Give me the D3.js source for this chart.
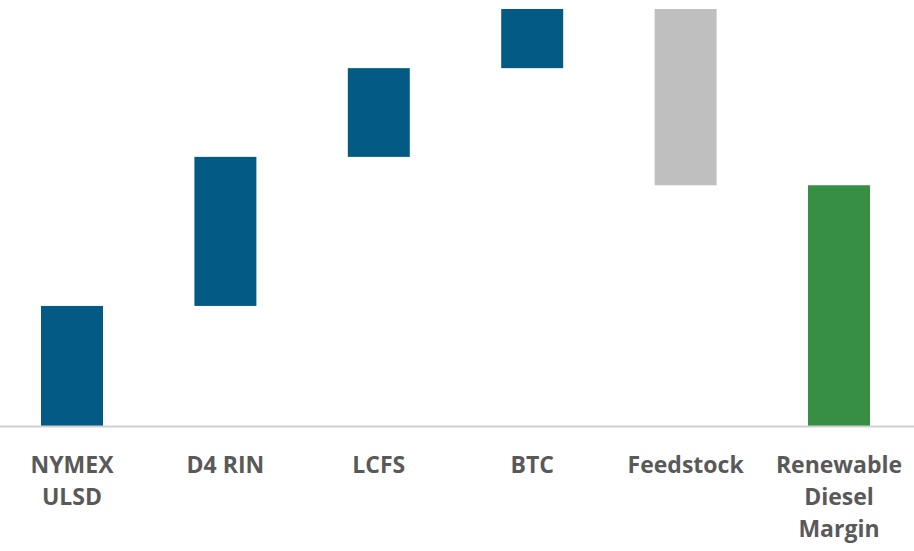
<!DOCTYPE html>
<html><head><meta charset="utf-8">
<script src="https://cdn.jsdelivr.net/npm/d3@7"></script>
<style>body{margin:0;background:#fff}svg{display:block}</style>
</head><body><svg id="c" width="914" height="551"></svg>
<script>
const categories = ["NYMEX ULSD", "D4 RIN", "LCFS", "BTC", "Feedstock", "Renewable Diesel Margin"];
const labelLines = [["NYMEX","ULSD"],["D4 RIN"],["LCFS"],["BTC"],["Feedstock"],["Renewable","Diesel","Margin"]];
const values = [2.03, 2.52, 1.50, 1.00, -2.98, 4.07];
const kinds = ["inc","inc","inc","inc","dec","total"];
const colors = {inc:"#025a85", dec:"#bfbfbf", total:"#378f43"};

const W = 914, H = 551;
const svg = d3.select("#c");
const x = d3.scaleBand().domain(categories).range([-4.7, 915.7]).paddingInner(0.596).paddingOuter(0.298);
const y = d3.scaleLinear().domain([0, 7.05]).range([426, 9]);

let cum = 0;
const bars = categories.map((c,i)=>{
  let y0, y1;
  if (kinds[i]==="total") { y0 = 0; y1 = values[i]; cum = values[i]; }
  else { y0 = cum; y1 = cum + values[i]; cum = y1; }
  return {c, lo: Math.min(y0,y1), hi: Math.max(y0,y1), k: kinds[i]};
});

svg.selectAll("rect.bar").data(bars).enter().append("rect")
  .attr("x", d=>x(d.c)).attr("width", x.bandwidth())
  .attr("y", d=>y(d.hi)).attr("height", d=>y(d.lo)-y(d.hi))
  .attr("fill", d=>colors[d.k]);

svg.append("line").attr("x1",0).attr("x2",W).attr("y1",y(0)+0.5).attr("y2",y(0)+0.5)
  .attr("stroke","#d0d0d0").attr("stroke-width",2);

const g = svg.append("g").attr("font-family","'Open Sans', sans-serif").attr("font-weight","bold")
  .attr("font-size","23px").attr("fill","#595959");
categories.forEach((c,i)=>{
  const t = g.append("text").attr("text-anchor","middle");
  labelLines[i].forEach((l,j)=>{
    t.append("tspan").attr("x",0).attr("y",473+ j*32).text(l);
  });
  let cx = x(c)+x.bandwidth()/2;
  const w = t.node().getBBox().width;
  cx = Math.min(cx, W - 7 - w/2);
  t.attr("transform",`translate(${cx},0)`);
});
</script></body></html>
